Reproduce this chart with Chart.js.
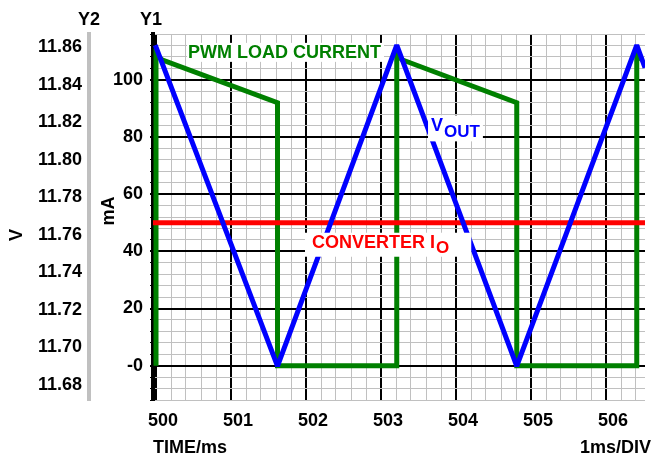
<!DOCTYPE html>
<html>
<head>
<meta charset="utf-8">
<script src="https://cdn.jsdelivr.net/npm/chart.js@4.4.1/dist/chart.umd.min.js"></script>
<style>
  html, body { margin: 0; padding: 0; background: #fff; }
</style>
</head>
<body>
<canvas id="scope" width="652" height="454"></canvas>
<script>
// PWM load current (mA) vs time (ms)
const loadT = [500.00, 500.00, 500.08, 501.62, 501.62, 503.21, 503.21, 503.28, 504.81, 504.81, 506.41, 506.41, 506.48];
const loadI = [0, 109, 107, 92, 0, 0, 109, 107, 92, 0, 0, 109, 107];

// output voltage ripple (V)
const voutT = [499.99, 501.62, 503.21, 504.81, 506.41, 506.52];
const voutV = [11.861, 11.690, 11.861, 11.690, 11.861, 11.849];

// converter output current (mA)
const ioT = [499.96, 506.52];
const ioI = [50, 50];

// tick labels
const timeLabels = [500, 501, 502, 503, 504, 505, 506];
const mALabels = [100, 80, 60, 40, 20, 0];
const voltLabels = [11.68, 11.70, 11.72, 11.74, 11.76, 11.78, 11.80, 11.82, 11.84, 11.86];

const FONT = "'Liberation Sans', Arial, sans-serif";
const GREY = '#c0c0c0';

Chart.defaults.font.family = FONT;
Chart.defaults.font.size = 18;
Chart.defaults.font.weight = 'bold';
Chart.defaults.color = '#000';

const pts = (xs, ys) => xs.map((x, i) => ({ x, y: ys[i] }));
const near = (v, list) => list.find(t => Math.abs(t - v) < 1e-6);
const isMult = (v, step) => Math.abs(v / step - Math.round(v / step)) < 1e-6;

// series captions, anchored in data units (time, mA)
const notes = [
  { text: 'PWM LOAD CURRENT', sub: '', t: 500.427, v: 109.4, color: '#008000', pad: [1, 3, 10, 9] },
  { text: 'V', sub: 'OUT', t: 503.667, v: 83.7, color: '#0000ff', pad: [3, 4, 11, 15] },
  { text: 'CONVERTER I', sub: 'O', t: 502.08, v: 43.0, color: '#ff0000', pad: [7, 23, 10, 14] }
];

const textPlugin = {
  id: 'scopeText',
  afterDraw(chart) {
    const { ctx, scales } = chart;
    const f = s => `bold ${s}px ${FONT}`;
    ctx.save();
    ctx.textBaseline = 'middle';

    notes.forEach(n => {
      const x = scales.x.getPixelForValue(n.t);
      const y = scales.y1.getPixelForValue(n.v);
      ctx.font = f(18);
      const w1 = ctx.measureText(n.text).width;
      ctx.font = f(17);
      const w2 = n.sub ? ctx.measureText(n.sub).width : 0;
      ctx.fillStyle = '#fff';
      ctx.fillRect(x - n.pad[0], y - n.pad[2], w1 + w2 + n.pad[0] + n.pad[1], n.pad[2] + n.pad[3]);
      ctx.fillStyle = n.color;
      ctx.textAlign = 'left';
      ctx.font = f(18);
      ctx.fillText(n.text, x, y);
      if (n.sub) {
        ctx.font = f(17);
        ctx.fillText(n.sub, x + w1 + 1, y + 6);
      }
    });

    ctx.fillStyle = '#000';
    ctx.font = f(18);
    ctx.textAlign = 'center';
    ctx.fillText('Y2', 89, 20);
    ctx.fillText('Y1', 151, 20);
    ctx.textAlign = 'left';
    ctx.fillText('TIME/ms', 153, 448);
    ctx.textAlign = 'right';
    ctx.fillText('1ms/DIV', 651, 448);

    ctx.textAlign = 'center';
    ctx.save();
    ctx.translate(17, 235);
    ctx.rotate(-Math.PI / 2);
    ctx.fillText('V', 0, 0);
    ctx.restore();
    ctx.save();
    ctx.translate(109, 211);
    ctx.rotate(-Math.PI / 2);
    ctx.fillText('mA', 0, 0);
    ctx.restore();

    ctx.restore();
  }
};

new Chart(document.getElementById('scope'), {
  type: 'line',
  data: {
    datasets: [
      { label: 'VOUT', data: pts(voutT, voutV), yAxisID: 'y2', borderColor: '#0000ff',
        borderWidth: 5, pointRadius: 0, borderJoinStyle: 'bevel', order: 1 },
      { label: 'CONVERTER IO', data: pts(ioT, ioI), yAxisID: 'y1', borderColor: '#ff0000',
        borderWidth: 5, pointRadius: 0, order: 2 },
      { label: 'PWM LOAD CURRENT', data: pts(loadT, loadI), yAxisID: 'y1', borderColor: '#008000',
        borderWidth: 5, pointRadius: 0, order: 3 }
    ]
  },
  options: {
    responsive: false,
    animation: false,
    layout: { padding: { top: 34, right: 7, bottom: 0, left: 0 } },
    plugins: { legend: { display: false }, tooltip: { enabled: false } },
    scales: {
      x: {
        type: 'linear', min: 499.96, max: 506.52,
        afterFit: s => { s.height = 54; },
        border: { display: false },
        grid: {
          drawTicks: false,
          color: c => (c.tick && isMult(c.tick.value, 1)) ? '#000' : GREY,
          lineWidth: c => (c.tick && isMult(c.tick.value, 1)) ? 2 : 1
        },
        ticks: {
          stepSize: 0.2, autoSkip: false, includeBounds: false, maxRotation: 0, minRotation: 0,
          padding: 10, labelOffset: 7,
          callback: v => { const t = near(v, timeLabels); return t === undefined ? '' : String(t); }
        }
      },
      y1: {
        position: 'left', weight: 0, min: -12, max: 116,
        afterFit: s => { s.width = 64; },
        border: { color: '#000', width: 4 },
        grid: {
          tickLength: 3, tickColor: '#000',
          color: c => (c.tick && isMult(c.tick.value, 20)) ? '#000' : GREY,
          lineWidth: c => (c.tick && isMult(c.tick.value, 20)) ? 2 : 1
        },
        ticks: {
          stepSize: 4, autoSkip: false, includeBounds: false, padding: 7,
          callback: v => { const t = near(v, mALabels); return t === undefined ? '' : (t === 0 ? '-0' : String(t)); }
        }
      },
      y2: {
        position: 'left', weight: 1, min: 11.67201, max: 11.86692,
        afterFit: s => { s.width = 89; },
        border: { color: GREY, width: 4 },
        grid: { drawOnChartArea: false, drawTicks: false },
        ticks: {
          stepSize: 0.02, autoSkip: false, includeBounds: false, padding: 7,
          callback: v => { const t = near(v, voltLabels); return t === undefined ? '' : t.toFixed(2); }
        }
      }
    }
  },
  plugins: [textPlugin]
});
</script>
</body>
</html>
